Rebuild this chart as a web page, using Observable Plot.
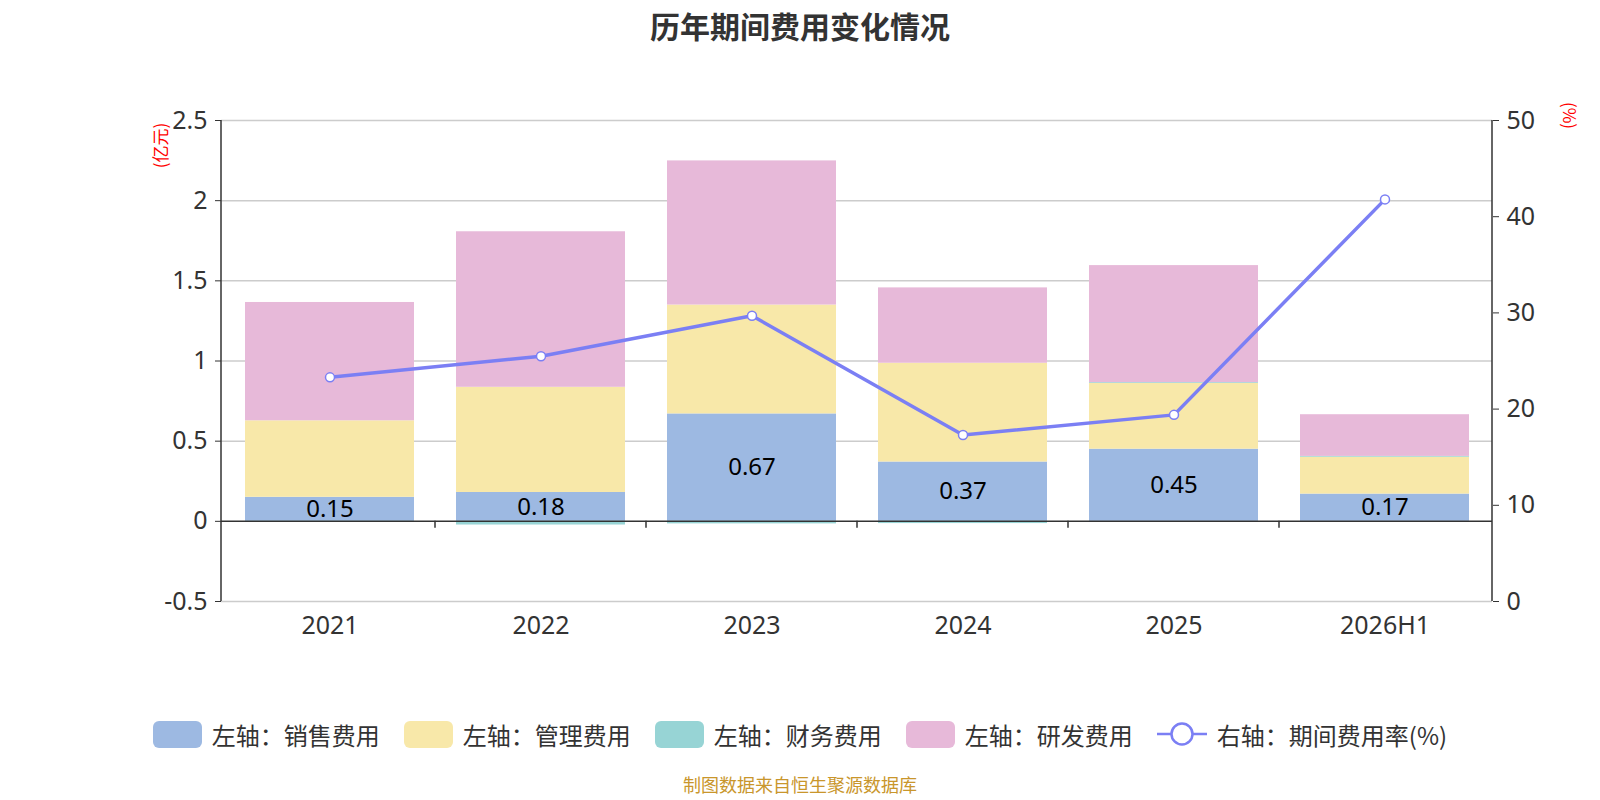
<!DOCTYPE html>
<html><head><meta charset="utf-8">
<script src="https://cdn.jsdelivr.net/npm/d3@7"></script>
<script src="https://cdn.jsdelivr.net/npm/@observablehq/plot@0.6"></script>
<style>
body{margin:0;background:#fff;font-family:"Noto Sans","Noto Sans CJK SC",sans-serif;}
#wrap{position:relative;width:1600px;height:800px;overflow:hidden;}
#title{position:absolute;left:0;top:0;width:1600px;text-align:center;font-size:30px;font-weight:bold;color:#333;line-height:50px;font-family:"Noto Sans CJK SC",sans-serif;}
#chart{position:absolute;left:0;top:50px;}
#legend{position:absolute;left:0;top:716px;width:1600px;height:36px;display:flex;justify-content:center;align-items:center;font-size:24px;color:#333;font-family:"Noto Sans CJK SC",sans-serif;}
.item{display:flex;align-items:center;margin:0 12px;}
.sw{width:49px;height:27px;border-radius:6px;margin-right:10px;}
.unit{position:absolute;color:#f00;font-size:17px;font-family:"Noto Sans CJK SC",sans-serif;white-space:nowrap;}
#footer{position:absolute;left:0;top:772px;width:1600px;text-align:center;font-size:18px;color:#c9962c;font-family:"Noto Sans CJK SC",sans-serif;line-height:24px;}
</style></head>
<body><div id="wrap">
<div id="title">历年期间费用变化情况</div>
<div id="chart"></div>
<div class="unit" id="uL">(亿元)</div>
<div class="unit" id="uR">(%)</div>
<div id="legend"></div>
<div id="footer">制图数据来自恒生聚源数据库</div>
</div>
<script>
const years = ["2021","2022","2023","2024","2025","2026H1"];
const sales = [0.15,0.18,0.67,0.37,0.45,0.17];
const admin = [0.477,0.656,0.679,0.616,0.41,0.23];
const finance = [-0.004,-0.023,-0.016,-0.014,0.005,0.005];
const rnd = [0.738,0.97,0.899,0.47,0.73,0.26];
const rate = [23.3,25.5,29.7,17.3,19.4,41.8];
const seriesNames = ["销售费用","管理费用","财务费用","研发费用"];
const seriesColors = ["#9db9e2","#f8e8a9","#97d4d5","#e7b9d9"];
const lineColor = "#7b7ff4";
const leftTicks = [-0.5,0,0.5,1,1.5,2,2.5];
const rightTicks = [0,10,20,30,40,50];
const legendLabels = ["左轴：销售费用","左轴：管理费用","左轴：财务费用","左轴：研发费用","右轴：期间费用率(%)"];

const leftMin = -0.5, leftMax = 2.5, rightMax = 50;
const toLeft = r => leftMin + r * (leftMax - leftMin) / rightMax;
const fromLeft = v => (v - leftMin) * rightMax / (leftMax - leftMin);

const seriesArrays = [sales, admin, finance, rnd];
const rows = [];
seriesNames.forEach((s, si) => years.forEach((y, i) => rows.push({year: y, series: s, value: seriesArrays[si][i]})));
const lineRows = years.map((y, i) => ({year: y, rate: rate[i]}));
const labelRows = years.map((y, i) => ({year: y, v: sales[i]}));

const font = '"Noto Sans","Noto Sans CJK SC",sans-serif';
const chart = Plot.plot({
  width: 1600, height: 620,
  marginTop: 70, marginBottom: 69, marginLeft: 221, marginRight: 108,
  style: {fontFamily: font, fontSize: "25px", color: "#333", background: "#fff", overflow: "visible"},
  x: {domain: years, paddingInner: 0.2, paddingOuter: 0.1},
  y: {domain: [leftMin, leftMax]},
  color: {domain: seriesNames, range: seriesColors},
  marks: [
    Plot.ruleY(leftTicks.filter(t => t !== 0), {stroke: "#cccccc", strokeWidth: 1.5}),
    Plot.barY(rows, Plot.stackY({x: "year", y: "value", fill: "series", order: null})),
    Plot.ruleY([0], {stroke: "#333", strokeWidth: 1.5}),
    Plot.text(labelRows, {x: "year", y: d => d.v / 2, text: d => d.v.toFixed(2), fontSize: 24, fill: "#000"}),
    Plot.line(lineRows, {x: "year", y: d => toLeft(d.rate), stroke: lineColor, strokeWidth: 3.5}),
    Plot.dot(lineRows, {x: "year", y: d => toLeft(d.rate), r: 4.5, fill: "#fff", stroke: lineColor, strokeWidth: 1.5}),
    Plot.axisY({ticks: leftTicks, anchor: "left", tickSize: 6, tickPadding: 8, tickFormat: d => String(d), fontSize: 25, label: null}),
    Plot.axisY({ticks: rightTicks.map(toLeft), anchor: "right", tickSize: 6, tickPadding: 8, tickFormat: d => String(Math.round(fromLeft(d))), fontSize: 25, label: null}),
    Plot.axisX({anchor: "bottom", tickSize: 0, tickPadding: 15, fontSize: 25, label: null})
  ]
});
document.getElementById("chart").appendChild(chart);

// axis lines and category boundary ticks, positioned with Plot's scales
const svgEl = chart.tagName.toLowerCase() === "svg" ? chart : chart.querySelector("svg");
const sx = chart.scale("x"), sy = chart.scale("y");
const svg = d3.select(svgEl);
const xL = sx.range[0], xR = sx.range[1];
const yTop = sy.apply(leftMax), yBot = sy.apply(leftMin), y0 = sy.apply(0);
const g = svg.append("g").attr("stroke", "#333").attr("stroke-width", 1.5);
g.append("line").attr("x1", xL).attr("x2", xL).attr("y1", yTop).attr("y2", yBot);
g.append("line").attr("x1", xR).attr("x2", xR).attr("y1", yTop).attr("y2", yBot);
const step = sx.apply(years[1]) - sx.apply(years[0]);
const bw = sx.bandwidth != null ? sx.bandwidth : step * 0.8;
for (let i = 1; i < years.length; i++) {
  const xb = sx.apply(years[i]) - (step - bw) / 2;
  g.append("line").attr("x1", xb).attr("x2", xb).attr("y1", y0).attr("y2", y0 + 7);
}

// unit labels
const uL = document.getElementById("uL");
uL.style.left = (159 - 25) + "px"; uL.style.top = (50 + yTop - 120 + 146 - 13) + "px";
uL.style.transform = "rotate(-90deg)"; uL.style.width = "50px"; uL.style.textAlign = "center";
const uR = document.getElementById("uR");
uR.style.left = (1570 - 25) + "px"; uR.style.top = (116 - 13) + "px";
uR.style.transform = "rotate(90deg)"; uR.style.width = "50px"; uR.style.textAlign = "center";

// legend
const legend = document.getElementById("legend");
legendLabels.forEach((lab, i) => {
  const item = document.createElement("div"); item.className = "item";
  if (i < 4) {
    const sw = document.createElement("div"); sw.className = "sw"; sw.style.background = seriesColors[i];
    item.appendChild(sw);
  } else {
    const ns = "http://www.w3.org/2000/svg";
    const s = document.createElementNS(ns, "svg");
    s.setAttribute("width", 50); s.setAttribute("height", 28); s.style.marginRight = "10px";
    const ln = document.createElementNS(ns, "line");
    ln.setAttribute("x1", 0); ln.setAttribute("x2", 50); ln.setAttribute("y1", 14); ln.setAttribute("y2", 14);
    ln.setAttribute("stroke", lineColor); ln.setAttribute("stroke-width", 2.5);
    const c = document.createElementNS(ns, "circle");
    c.setAttribute("cx", 25); c.setAttribute("cy", 14); c.setAttribute("r", 10.5);
    c.setAttribute("fill", "#fff"); c.setAttribute("stroke", lineColor); c.setAttribute("stroke-width", 2.5);
    s.appendChild(ln); s.appendChild(c); item.appendChild(s);
  }
  const t = document.createElement("span"); t.textContent = lab; item.appendChild(t);
  legend.appendChild(item);
});
</script>
</body></html>
